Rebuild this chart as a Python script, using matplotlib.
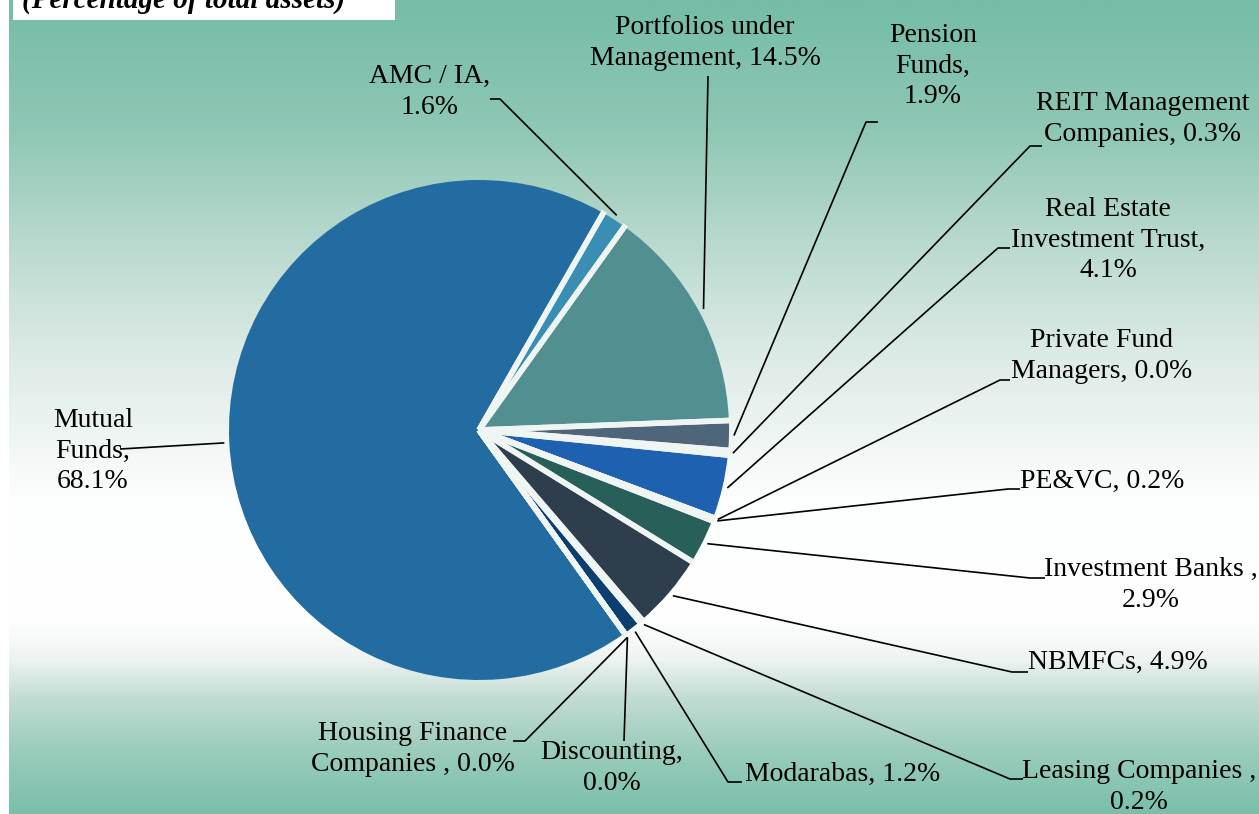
import numpy as np
import matplotlib
matplotlib.use("Agg")
import matplotlib.pyplot as plt
from matplotlib.colors import LinearSegmentedColormap
from matplotlib.patches import Rectangle

plt.rcParams["font.family"] = ["Liberation Serif", "DejaVu Serif"]

# ---------------- data ----------------
categories = ["Mutual Funds", "AMC / IA", "Portfolios under Management", "Pension Funds",
              "REIT Management Companies", "Real Estate Investment Trust",
              "Private Fund Managers", "PE&VC", "Investment Banks", "NBMFCs",
              "Leasing Companies", "Modarabas", "Discounting", "Housing Finance Companies"]
values = [68.1, 1.6, 14.5, 1.9, 0.3, 4.1, 0.0, 0.2, 2.9, 4.9, 0.2, 1.2, 0.0, 0.0]
label_templates = ["Mutual\nFunds,\n{}%", "AMC / IA,\n{}%", "Portfolios under\nManagement, {}%",
                   "Pension\nFunds,\n{}%", "REIT Management\nCompanies, {}%",
                   "Real Estate\nInvestment Trust,\n{}%", "Private Fund\nManagers, {}%",
                   "PE&VC, {}%", "Investment Banks ,\n{}%", "NBMFCs, {}%",
                   "Leasing Companies ,\n{}%", "Modarabas, {}%", "Discounting,\n{}%",
                   "Housing Finance\nCompanies , {}%"]
title = "(Percentage of total assets)"

colors = ["#236ca1", "#3a8db3", "#528f90", "#4f6579", "#8aa5b0", "#1d61b0", "#2f6f8f",
          "#5aa0a0", "#285f58", "#2e3e4c", "#3d7a9a", "#0c3f70", "#333333", "#555555"]

# ---------------- layout (image pixel coords, y down) ----------------
W, H = 1259, 814
cx, cy, R = 479, 430, 250
layout = [
    ((93, 451), "center", [(120, 449)]),
    ((430, 92), "center", [(500, 99), (490, 99)]),
    ((705, 43), "center", [(708, 76)]),
    ((933, 66), "center", [(866, 122), (878, 122)]),
    ((1143, 119), "center", [(1030, 146), (1042, 146)]),
    ((1108, 240), "center", [(998, 248), (1010, 248)]),
    ((1102, 356), "center", [(1000, 380), (1010, 380)]),
    ((1020, 481), "left", [(1008, 489), (1020, 489)]),
    ((1151, 585), "center", [(1030, 578), (1045, 578)]),
    ((1028, 662), "left", [(1012, 672), (1028, 672)]),
    ((1139, 787), "center", [(1010, 779), (1023, 779)]),
    ((745, 774), "left", [(728, 782), (742, 782)]),
    ((612, 768), "center", [(624, 741)]),
    ((413, 749), "center", [(525, 741), (513, 741)]),
]

fig = plt.figure(figsize=(W / 100, H / 100), dpi=100)
ax = fig.add_axes([0, 0, 1, 1])
fig.patch.set_facecolor("white")

def Y(y):
    return H - y

explode = [0.0] + [0.05] * (len(values) - 1)
wedges, _ = ax.pie(values, colors=colors, startangle=-54.4, counterclock=False,
                   center=(cx, Y(cy)), radius=R, explode=explode, normalize=True,
                   wedgeprops=dict(edgecolor="none", linewidth=0), frame=True)
ax.set_xlim(0, W)
ax.set_ylim(0, H)
ax.axis("off")

# background gradient
stops = [(0, "#76bca8"), (30, "#7bbfab"), (130, "#8fc7b5"), (250, "#bcdbd0"),
         (350, "#dbeae5"), (450, "#f2f7f5"), (500, "#fdfefe"), (620, "#ffffff"),
         (660, "#eef4f2"), (700, "#c2dcd3"), (750, "#9ccdbd"), (814, "#7bbfab")]
cmap = LinearSegmentedColormap.from_list("bg", [(p / H, c) for p, c in stops])
grad = np.linspace(0, 1, 400).reshape(-1, 1)
ax.imshow(grad, cmap=cmap, aspect="auto", extent=(9, W, 0, H), origin="upper", zorder=0)
ax.set_xlim(0, W)
ax.set_ylim(0, H)

# title box
ax.add_patch(Rectangle((13, H - 20), 382, 20, facecolor="white", edgecolor="none", zorder=1))
ax.text(22, H - 8, title, fontsize=21, fontweight="bold", fontstyle="italic",
        va="baseline", ha="left", zorder=2)

# wedges with gaps along their radial edges
for i, w in enumerate(wedges):
    w.set_zorder(3)
    c = np.array(w.center)
    for th in (w.theta1, w.theta2):
        t = np.deg2rad(th)
        ax.plot([c[0], c[0] + (R + 2) * np.cos(t)], [c[1], c[1] + (R + 2) * np.sin(t)],
                color="#eef5f2", lw=4.0, zorder=3.5, solid_capstyle="butt")

for i, (w, tmpl) in enumerate(zip(wedges, label_templates)):
    ang = np.deg2rad((w.theta1 + w.theta2) / 2)
    rr = R * 1.02
    px = cx + rr * np.cos(ang)
    py = Y(cy) + rr * np.sin(ang)
    (tx, ty), ha, path = layout[i]
    xs = [px] + [p[0] for p in path]
    ys = [py] + [Y(p[1]) for p in path]
    ax.plot(xs, ys, color="black", lw=1.2, zorder=4, solid_capstyle="butt")
    ax.text(tx, Y(ty), tmpl.format(f"{values[i]:.1f}"), ha=ha, va="center",
            multialignment="center", fontsize=20, linespacing=1.3, zorder=5)

fig.savefig("out.png", dpi=100)
